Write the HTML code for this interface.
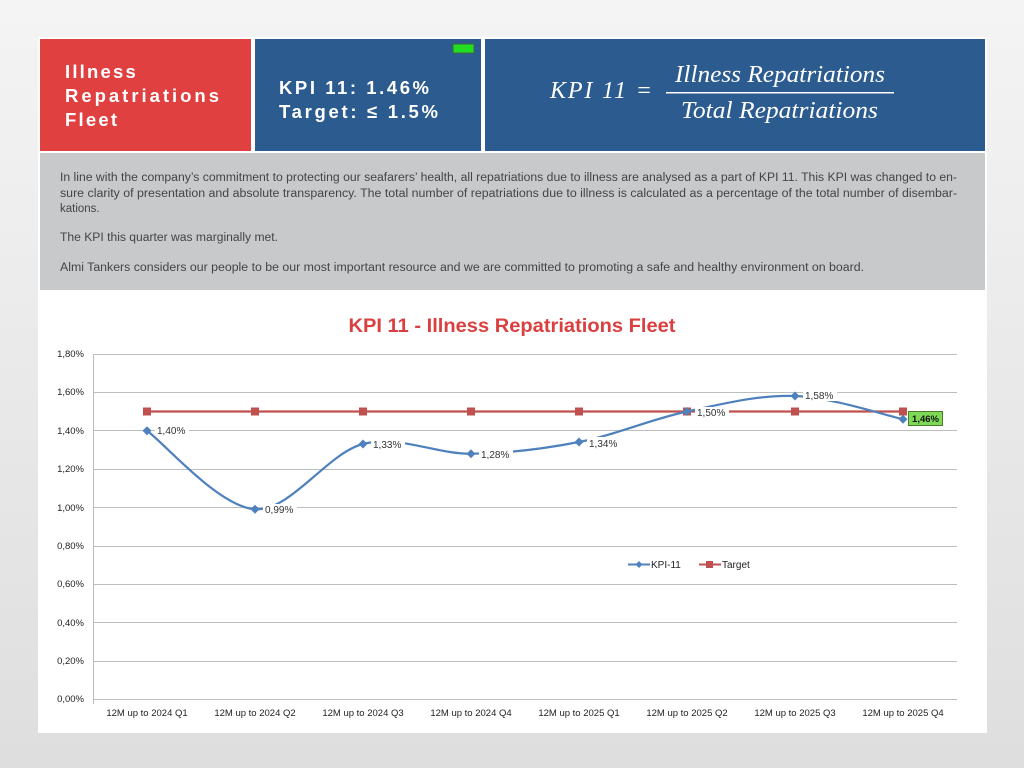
<!DOCTYPE html>
<html><head><meta charset="utf-8"><style>
html,body{margin:0;padding:0;width:1024px;height:768px;overflow:hidden;background:#e6e6e6}
</style></head><body>
<svg width="1024" height="768" viewBox="0 0 1024 768" xmlns="http://www.w3.org/2000/svg">
<defs><linearGradient id="bg" x1="0" y1="0" x2="0" y2="1"><stop offset="0" stop-color="#f4f4f4"/><stop offset="1" stop-color="#dedede"/></linearGradient></defs>
<rect width="1024" height="768" fill="url(#bg)"/>
<rect x="38" y="37" width="949" height="696" fill="#ffffff"/>
<rect x="40" y="39" width="211" height="112" fill="#e04040"/>
<rect x="255" y="39" width="226" height="112" fill="#2c5b8f"/>
<rect x="485" y="39" width="500" height="112" fill="#2c5b8f"/>
<rect x="453" y="44" width="21" height="9" fill="#22dd22" stroke="#3a6a3a" stroke-width="1"/>
<g font-family="Liberation Sans, sans-serif" font-weight="bold" fill="#fff" font-size="18.5">
<text x="65" y="78" letter-spacing="2.2">Illness</text><text x="65" y="102" textLength="154" lengthAdjust="spacing">Repatriations</text><text x="65" y="126" letter-spacing="2.2">Fleet</text>
<text x="279" y="94" textLength="150" lengthAdjust="spacing">KPI 11: 1.46%</text><text x="279" y="118" textLength="159" lengthAdjust="spacing">Target: ≤ 1.5%</text>
</g>
<g font-family="Liberation Serif, serif" font-style="italic" fill="#fff" font-size="24">
<text x="550" y="98" textLength="102" lengthAdjust="spacing">KPI  11  =</text>
<text x="675" y="82" textLength="210" lengthAdjust="spacingAndGlyphs">Illness Repatriations</text>
<text x="681" y="118" textLength="197" lengthAdjust="spacingAndGlyphs">Total Repatriations</text>
</g>
<rect x="666" y="92" width="228" height="1.5" fill="#fff"/>
<rect x="40" y="153" width="945" height="137" fill="#c8c9cb"/>
<g font-family="Liberation Sans, sans-serif" font-size="11.5" fill="#444">
<text x="60" y="181" textLength="897" lengthAdjust="spacingAndGlyphs">In line with the company’s commitment to protecting our seafarers’ health, all repatriations due to illness are analysed as a part of KPI 11. This KPI was changed to en-</text>
<text x="60" y="197" textLength="897" lengthAdjust="spacingAndGlyphs">sure clarity of presentation and absolute transparency. The total number of repatriations due to illness is calculated as a percentage of the total number of disembar-</text>
<text x="60" y="212">kations.</text>
<text x="60" y="241" textLength="218" lengthAdjust="spacingAndGlyphs">The KPI this quarter was marginally met.</text>
<text x="60" y="271" textLength="804" lengthAdjust="spacingAndGlyphs">Almi Tankers considers our people to be our most important resource and we are committed to promoting a safe and healthy environment on board.</text>
</g>
<text x="512" y="332" text-anchor="middle" font-family="Liberation Sans, sans-serif" font-weight="bold" font-size="19" fill="#d9403f" textLength="327" lengthAdjust="spacingAndGlyphs">KPI 11 - Illness Repatriations Fleet</text>
<g stroke="#bdbdbd" stroke-width="1">
<line x1="93" x2="957" y1="354.5" y2="354.5"/><line x1="93" x2="957" y1="392.5" y2="392.5"/><line x1="93" x2="957" y1="430.5" y2="430.5"/><line x1="93" x2="957" y1="469.5" y2="469.5"/><line x1="93" x2="957" y1="507.5" y2="507.5"/><line x1="93" x2="957" y1="546.5" y2="546.5"/><line x1="93" x2="957" y1="584.5" y2="584.5"/><line x1="93" x2="957" y1="622.5" y2="622.5"/><line x1="93" x2="957" y1="661.5" y2="661.5"/><line x1="93" x2="957" y1="699.5" y2="699.5"/>
<line x1="93.5" x2="93.5" y1="354" y2="704"/>
</g>
<g font-family="Liberation Sans, sans-serif" font-size="9.5" fill="#222" text-anchor="end">
<text x="84" y="357">1,80%</text><text x="84" y="395">1,60%</text><text x="84" y="434">1,40%</text><text x="84" y="472">1,20%</text><text x="84" y="511">1,00%</text><text x="84" y="549">0,80%</text><text x="84" y="587">0,60%</text><text x="84" y="626">0,40%</text><text x="84" y="664">0,20%</text><text x="84" y="702">0,00%</text>
</g>
<g font-family="Liberation Sans, sans-serif" font-size="9.5" fill="#222" text-anchor="middle">
<text x="147" y="716">12M up to 2024  Q1</text><text x="255" y="716">12M up to 2024  Q2</text><text x="363" y="716">12M up to 2024  Q3</text><text x="471" y="716">12M up to 2024  Q4</text><text x="579" y="716">12M up to 2025 Q1</text><text x="687" y="716">12M up to 2025 Q2</text><text x="795" y="716">12M up to 2025 Q3</text><text x="903" y="716">12M up to 2025 Q4</text>
</g>
<line x1="147" x2="903" y1="411.5" y2="411.5" stroke="#c0504d" stroke-width="2.2"/>
<g fill="#c0504d">
<rect x="143" y="407.5" width="8" height="8"/><rect x="251" y="407.5" width="8" height="8"/><rect x="359" y="407.5" width="8" height="8"/><rect x="467" y="407.5" width="8" height="8"/><rect x="575" y="407.5" width="8" height="8"/><rect x="683" y="407.5" width="8" height="8"/><rect x="791" y="407.5" width="8" height="8"/><rect x="899" y="407.5" width="8" height="8"/>
</g>
<path d="M147,430.7 C165,443.8 219,507 255,509.2 C291,511.4 327,453.25 363,444 C399,434.75 435,454 471,453.7 C507,453.4 543,449 579,442 C615,435 651,419.2 687,411.5 C723,403.8 759,394.7 795,396 C831,397.3 885,415.3 903,419.2" fill="none" stroke="#4f81bd" stroke-width="2.2"/>
<g fill="#4f81bd">
<path d="M147,426.2 l4.5,4.5 -4.5,4.5 -4.5,-4.5z"/><path d="M255,504.7 l4.5,4.5 -4.5,4.5 -4.5,-4.5z"/><path d="M363,439.5 l4.5,4.5 -4.5,4.5 -4.5,-4.5z"/><path d="M471,449.2 l4.5,4.5 -4.5,4.5 -4.5,-4.5z"/><path d="M579,437.5 l4.5,4.5 -4.5,4.5 -4.5,-4.5z"/><path d="M687,407 l4.5,4.5 -4.5,4.5 -4.5,-4.5z"/><path d="M795,391.5 l4.5,4.5 -4.5,4.5 -4.5,-4.5z"/><path d="M903,414.7 l4.5,4.5 -4.5,4.5 -4.5,-4.5z"/>
</g>
<g font-family="Liberation Sans, sans-serif" font-size="10" fill="#333">
<rect x="155" y="425" width="34" height="11" fill="#fff"/><text x="157" y="434">1,40%</text>
<rect x="263" y="504" width="34" height="11" fill="#fff"/><text x="265" y="513">0,99%</text>
<rect x="371" y="438" width="34" height="11" fill="#fff"/><text x="373" y="448">1,33%</text>
<rect x="479" y="448" width="34" height="11" fill="#fff"/><text x="481" y="458">1,28%</text>
<rect x="587" y="437" width="34" height="11" fill="#fff"/><text x="589" y="447">1,34%</text>
<rect x="695" y="407" width="34" height="11" fill="#fff"/><text x="697" y="416">1,50%</text>
<rect x="803" y="390" width="34" height="11" fill="#fff"/><text x="805" y="399">1,58%</text>
</g>
<rect x="908.5" y="411.5" width="34" height="14" fill="#7ed957" stroke="#4a7a2a"/>
<text x="925.5" y="422" text-anchor="middle" font-family="Liberation Sans, sans-serif" font-size="9.5" font-weight="bold" fill="#111">1,46%</text>
<line x1="628" x2="650" y1="564.5" y2="564.5" stroke="#4f81bd" stroke-width="2"/>
<path d="M639,561 l3.5,3.5 -3.5,3.5 -3.5,-3.5z" fill="#4f81bd"/>
<text x="651" y="568" font-family="Liberation Sans, sans-serif" font-size="10" fill="#222">KPI-11</text>
<line x1="699" x2="721" y1="564.5" y2="564.5" stroke="#c0504d" stroke-width="2"/>
<rect x="706" y="561" width="7" height="7" fill="#c0504d"/>
<text x="722" y="568" font-family="Liberation Sans, sans-serif" font-size="10" fill="#222">Target</text>
</svg>
</body></html>
